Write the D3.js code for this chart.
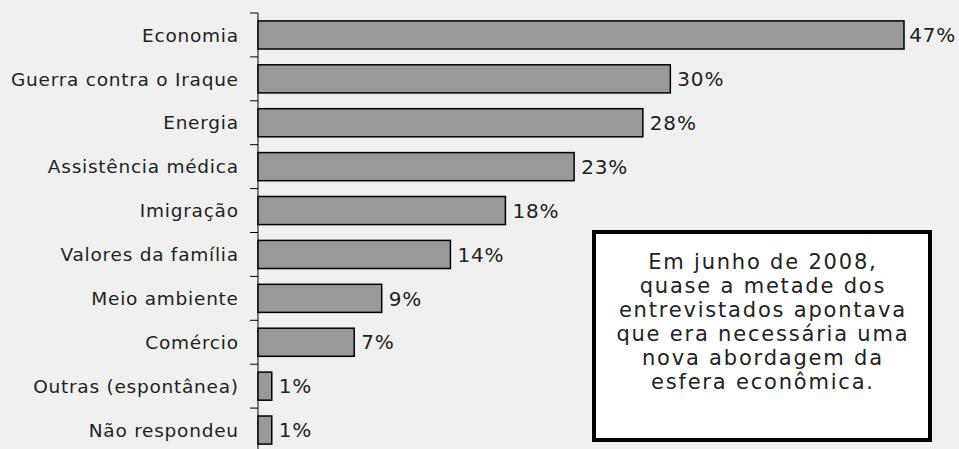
<!DOCTYPE html>
<html><head><meta charset="utf-8">
<script src="https://cdn.jsdelivr.net/npm/d3@7"></script>
<style>html,body{margin:0;padding:0;background:#f0f0f0;}svg{display:block;}</style>
</head><body>
<script>
const categories = ["Economia","Guerra contra o Iraque","Energia","Assistência médica","Imigração","Valores da família","Meio ambiente","Comércio","Outras (espontânea)","Não respondeu"];
const values = [47,30,28,23,18,14,9,7,1,1];
const valueLabels = ["47%","30%","28%","23%","18%","14%","9%","7%","1%","1%"];
const noteLines = ["Em junho de 2008,","quase a metade dos","entrevistados apontava","que era necessária uma","nova abordagem da","esfera econômica."];

const W = 959, H = 449;
const font = "'DejaVu Sans', sans-serif";
const svg = d3.select("body").append("svg").attr("width", W).attr("height", H);
svg.append("rect").attr("width", W).attr("height", H).attr("fill", "#f0f0f0");

const x0 = 258;
const x = d3.scaleLinear().domain([0, 47]).range([x0, 904]);
const y = d3.scaleBand().domain(categories).range([13, 452]).paddingInner(0.36).paddingOuter(0.18);

const step = y.step();
const ticks = d3.range(categories.length + 1).map(i => 13 + i * step);
svg.append("line").attr("x1", x0).attr("x2", x0).attr("y1", 13).attr("y2", H)
  .attr("stroke", "#000").attr("stroke-width", 1);
svg.selectAll(".tk").data(ticks).join("line")
  .attr("x1", x0 - 8).attr("x2", x0).attr("y1", d => d).attr("y2", d => d)
  .attr("stroke", "#000").attr("stroke-width", 1);

svg.selectAll(".bar").data(values).join("rect")
  .attr("x", x0).attr("y", (d, i) => y(categories[i]))
  .attr("width", d => x(d) - x0).attr("height", y.bandwidth())
  .attr("fill", "#999999").attr("stroke", "#000").attr("stroke-width", 1.5);

const lsCat = 0.75;
svg.selectAll(".cat").data(categories).join("text")
  .attr("x", 238 + lsCat).attr("y", d => y(d) + y.bandwidth() / 2)
  .attr("dy", "0.36em").attr("text-anchor", "end")
  .attr("font-family", font).attr("font-size", 18.5).attr("letter-spacing", lsCat)
  .attr("fill", "#222")
  .text(d => d);

svg.selectAll(".val").data(values).join("text")
  .attr("y", (d, i) => y(categories[i]) + y.bandwidth() / 2)
  .attr("dy", "0.36em").attr("font-family", font).attr("font-size", 20).attr("letter-spacing", 0.8)
  .attr("fill", "#222")
  .text((d, i) => valueLabels[i])
  .attr("x", function(d) { return Math.min(x(d) + 7, 956 - this.getComputedTextLength()); });

svg.append("rect").attr("x", 594).attr("y", 232).attr("width", 336).attr("height", 208)
  .attr("fill", "#fff").attr("stroke", "#000").attr("stroke-width", 4);
const lsNote = 1.8;
svg.selectAll(".note").data(noteLines).join("text")
  .attr("x", 762 + lsNote / 2).attr("y", (d, i) => 261 + i * 24).attr("dy", "0.36em")
  .attr("text-anchor", "middle").attr("font-family", font).attr("font-size", 21).attr("letter-spacing", lsNote)
  .attr("fill", "#222")
  .text(d => d);
</script>
</body></html>
